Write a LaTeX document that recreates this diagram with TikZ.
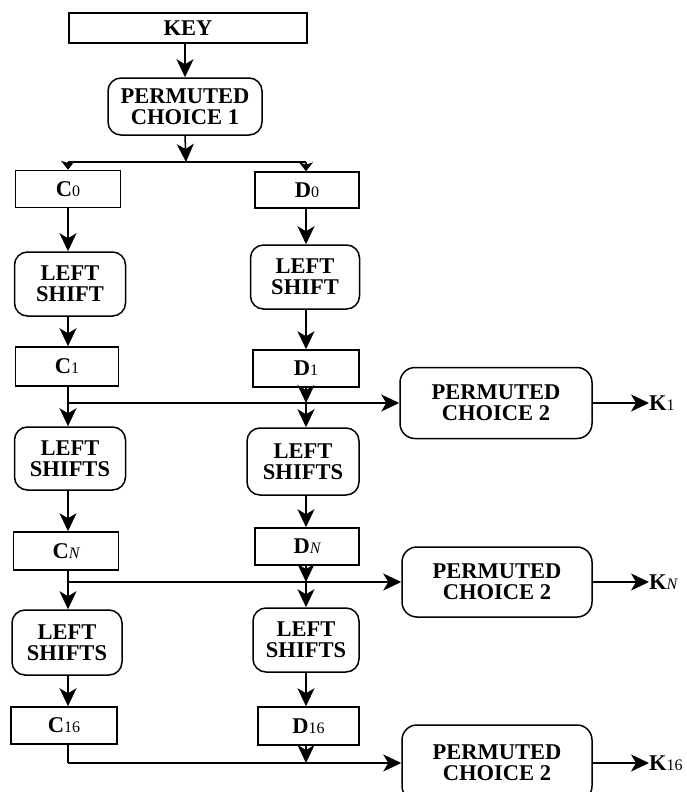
\documentclass[tikz,border=0pt]{standalone}
\usepackage{fontspec}
\setmainfont{Liberation Serif}
\usetikzlibrary{arrows.meta}
\newcommand\subx[1]{{\mdseries\fontsize{16}{16}\selectfont #1}}
\newcommand\subn{{\mdseries\itshape\fontsize{16}{16}\selectfont N}}
\tikzset{
  box/.style={draw, line width=1.5pt, font=\bfseries\fontsize{22.5}{21}\selectfont, inner sep=0pt, align=center},
  rbox/.style={box, rounded corners=13pt},
  arr/.style={-{Stealth[length=18pt,width=17pt,inset=5pt]}, line width=1.5pt},
  arrs/.style={-{Stealth[length=9pt,width=14pt,inset=2.5pt]}, line width=1.5pt},
  ln/.style={line width=1.5pt},
  klabel/.style={anchor=west, inner sep=0pt, font=\bfseries\fontsize{22.5}{21}\selectfont}
}
\begin{document}
\begin{tikzpicture}[x=1pt,y=-1pt]
\useasboundingbox (0,0) rectangle (686,792);
\clip (0,0) rectangle (686,792);
% top
\node[box, minimum width=238pt, minimum height=30pt] (key) at (188,28) {KEY};
\node[rbox, minimum width=154pt, minimum height=57pt] (pc1) at (185,106.5) {PERMUTED\\CHOICE 1};
% C column
\node[box, minimum width=105pt, minimum height=37pt] (c0) at (68,189) {C\subx{0}};
\node[rbox, minimum width=111pt, minimum height=64pt] (lsc1) at (70,284) {LEFT\\SHIFT};
\node[box, minimum width=103pt, minimum height=39pt] (c1) at (67,366.5) {C\subx{1}};
\node[rbox, minimum width=111pt, minimum height=63pt] (lsc2) at (70,458.5) {LEFT\\SHIFTS};
\node[box, minimum width=105pt, minimum height=38pt] (cn) at (66,551) {C\subn};
\node[rbox, minimum width=110pt, minimum height=65pt] (lsc3) at (67,642.5) {LEFT\\SHIFTS};
\node[box, minimum width=106pt, minimum height=37pt] (c16) at (64,725.5) {C\subx{16}};
% D column
\node[box, minimum width=104pt, minimum height=36pt] (d0) at (307,190) {D\subx{0}};
\node[rbox, minimum width=109pt, minimum height=64pt] (lsd1) at (305,277) {LEFT\\SHIFT};
\node[box, minimum width=106pt, minimum height=37pt] (d1) at (306,368.5) {D\subx{1}};
\node[rbox, minimum width=112pt, minimum height=67pt] (lsd2) at (303,461.5) {LEFT\\SHIFTS};
\node[box, minimum width=104pt, minimum height=37pt] (dn) at (307,546.5) {D\subn};
\node[rbox, minimum width=106pt, minimum height=64pt] (lsd3) at (306,640) {LEFT\\SHIFTS};
\node[box, minimum width=101pt, minimum height=38pt] (d16) at (308.5,726) {D\subx{16}};
% permuted choice 2
\node[rbox, rounded corners=15pt, minimum width=192pt, minimum height=71pt] (pca) at (496,403) {PERMUTED\\CHOICE 2};
\node[rbox, rounded corners=15pt, minimum width=190pt, minimum height=70pt] (pcb) at (497,582) {PERMUTED\\CHOICE 2};
\node[rbox, rounded corners=15pt, minimum width=190pt, minimum height=76pt] (pcc) at (497,763) {PERMUTED\\CHOICE 2};
\node[klabel] (k1) at (649,403) {K\subx{1}};
\node[klabel] (kn) at (649,582) {K\subn};
\node[klabel] (k16) at (649,763) {K\subx{16}};
% junctions
\coordinate (j0) at (186,162);
\coordinate (jc) at (68,0);
\coordinate (jd) at (306,0);
% connectors top
\draw[arr] (key.south -| pc1.north) -- (pc1.north);
\draw[arr] (pc1.south) -- (j0);
\draw[ln] (j0 -| jc) -- (j0 -| jd);
\draw[arrs] (j0 -| jc) -- (jc |- c0.north);
\draw[arrs] (j0 -| jd) -- (jd |- d0.north);
% C column vertical arrows
\draw[arr] (jc |- c0.south) -- (jc |- lsc1.north);
\draw[arr] (jc |- lsc1.south) -- (jc |- c1.north);
\draw[arr] (jc |- lsc2.south) -- (jc |- cn.north);
\draw[arr] (jc |- lsc3.south) -- (jc |- c16.north);
% D column vertical arrows
\draw[arr] (jd |- d0.south) -- (jd |- lsd1.north);
\draw[arr] (jd |- lsd1.south) -- (jd |- d1.north);
\draw[arr] (jd |- lsd2.south) -- (jd |- dn.north);
\draw[arr] (jd |- lsd3.south) -- (jd |- d16.north);
% row 1 junction
\draw[ln] (jc |- c1.south) -- (jc |- pca.west);
\draw[arr] (jc |- pca.west) -- (pca.west);
\draw[arr] (jc |- pca.west) -- (jc |- lsc2.north);
\draw[arr] (jd |- d1.south) -- (jd |- pca.west);
\draw[arr] (jd |- pca.west) -- (jd |- lsd2.north);
\draw[arr] (pca.east) -- (k1.west);
% row N junction
\draw[ln] (jc |- cn.south) -- (jc |- pcb.west);
\draw[arr] (jc |- pcb.west) -- (pcb.west);
\draw[arr] (jc |- pcb.west) -- (jc |- lsc3.north);
\draw[arr] (jd |- dn.south) -- (jd |- pcb.west);
\draw[arr] (jd |- pcb.west) -- (jd |- lsd3.north);
\draw[arr] (pcb.east) -- (kn.west);
% row 16 junction
\draw[ln] (jc |- c16.south) -- (jc |- pcc.west);
\draw[arr] (jc |- pcc.west) -- (pcc.west);
\draw[arr] (jd |- d16.south) -- (jd |- pcc.west);
\draw[arr] (pcc.east) -- (k16.west);
\end{tikzpicture}
\end{document}
